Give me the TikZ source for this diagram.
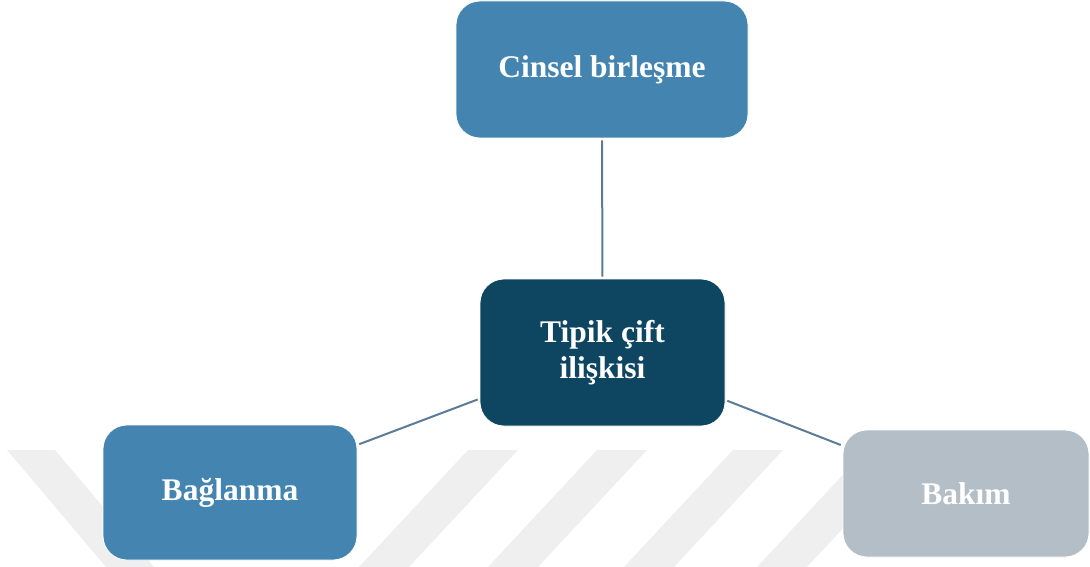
\documentclass[tikz,border=0pt]{standalone}
\usepackage{fontspec}
\setmainfont{Liberation Serif}
\definecolor{boxblue}{HTML}{4385B0}
\definecolor{boxdark}{HTML}{0E4560}
\definecolor{boxgray}{HTML}{B4BEC7}
\definecolor{linkcol}{HTML}{5B7B98}
\definecolor{stripecol}{HTML}{EFEFEF}
\tikzset{
  card/.style={rounded corners=24pt, draw=white, line width=0.8pt, inner sep=0pt,
    text=white, font=\bfseries\fontsize{31.5}{36}\selectfont, align=center},
  link/.style={draw=linkcol, line width=2pt, shorten <=2pt, shorten >=2pt},
  stripe/.style={fill=stripecol, draw=none}
}
\begin{document}
\begin{tikzpicture}[x=1pt,y=-1pt]
\useasboundingbox (0,0) rectangle (1090,567);
% watermark stripes
\fill[stripe] (7,450) -- (55,450) -- (154,567) -- (106,567) -- cycle;
\foreach \s in {468,597,733,866}{
  \fill[stripe] (\s,450) -- ({\s+50},450) -- ({\s+50-109},567) -- ({\s-109},567) -- cycle;
}
% nodes
\node[card, fill=boxblue, minimum width=292pt, minimum height=137pt] (top) at (602,69.5) {Cinsel birleşme};
\node[card, fill=boxdark, minimum width=245pt, minimum height=147pt] (mid) at (602.5,352.5) {Tipik çift\\ilişkisi};
\node[card, fill=boxblue, minimum width=254pt, minimum height=135pt] (left) at (230,492.5) {Bağlanma};
\node[card, fill=boxgray, minimum width=246pt, minimum height=127pt] (right) at (966,493.5) {Bakım};
% connectors
\draw[link] (mid) -- (top);
\draw[link] (mid) -- (left);
\draw[link] (mid) -- (right);
\end{tikzpicture}
\end{document}
